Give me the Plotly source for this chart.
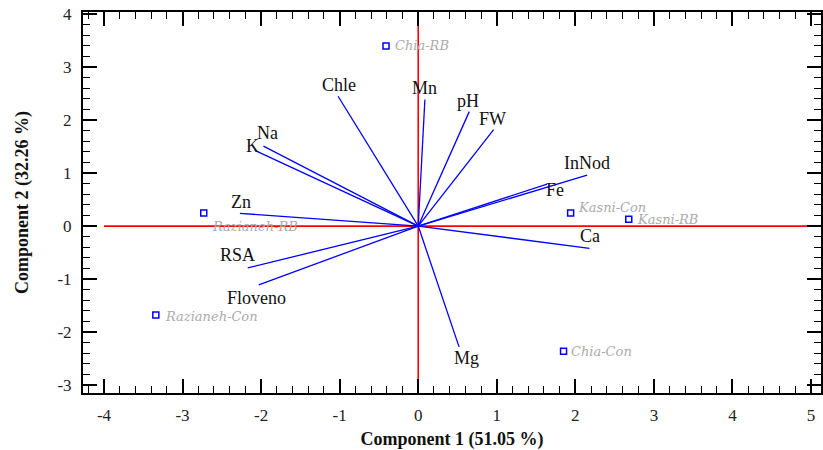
import plotly.graph_objects as go

# Variable loadings (biplot vectors)
variables = ["Chle", "Mn", "pH", "FW", "InNod", "Fe", "Ca", "Mg", "K", "Na", "Zn", "RSA", "Floveno"]
load_pc1 = [-1.02, 0.085, 0.65, 0.96, 2.15, 1.64, 2.18, 0.52, -2.08, -1.97, -2.27, -2.17, -2.03]
load_pc2 = [2.45, 2.39, 2.16, 1.82, 0.96, 0.79, -0.42, -2.28, 1.43, 1.51, 0.24, -0.79, -1.11]

# Sample scores
samples = ["Chia-RB", "Razianeh-RB", "Razianeh-Con", "Kasni-Con", "Kasni-RB", "Chia-Con"]
score_pc1 = [-0.41, -2.73, -3.34, 1.94, 2.68, 1.85]
score_pc2 = [3.40, 0.245, -1.68, 0.245, 0.13, -2.36]

# Axis ticks (plain hyphen for negatives)
x_tickvals = [-4, -3, -2, -1, 0, 1, 2, 3, 4, 5]
x_ticktext = ["-4", "-3", "-2", "-1", "0", "1", "2", "3", "4", "5"]
y_tickvals = [-3, -2, -1, 0, 1, 2, 3, 4]
y_ticktext = ["-3", "-2", "-1", "0", "1", "2", "3", "4"]

# Label offsets in pixels (x, y) relative to the vector tip
var_label_shift = [(1, 11), (0, 11), (-1, 11), (-1, 11), (0, 12), (8, -6), (1, 12), (7, -11),
                   (-2, 4), (4, 13), (1, 11), (-10, 13), (-2, -13)]
# Label offsets in pixels for the sample names (relative to the marker)
sample_label_shift = [(7, 0), (6, -13), (7, -1), (5, 6), (6, 0), (5, 0)]

SERIF = "Liberation Serif"

fig = go.Figure()

# reference axes through the origin
fig.add_shape(type="line", x0=-4, x1=5, y0=0, y1=0, line=dict(color="red", width=1.6), layer="below")
fig.add_shape(type="line", x0=0, x1=0, y0=-3, y1=3.85, line=dict(color="red", width=1.6), layer="below")

# loading vectors from the origin
vx, vy = [], []
for a, b in zip(load_pc1, load_pc2):
    vx += [0, a, None]
    vy += [0, b, None]
fig.add_trace(go.Scatter(x=vx, y=vy, mode="lines", line=dict(color="#0000ff", width=1.3),
                         hoverinfo="skip", showlegend=False))

# sample points
fig.add_trace(go.Scatter(x=score_pc1, y=score_pc2, mode="markers",
                         marker=dict(symbol="square-open", size=6, color="#0000ff",
                                     line=dict(width=1.5, color="#0000ff")),
                         text=samples, showlegend=False))

for name, a, b, (dx, dy) in zip(variables, load_pc1, load_pc2, var_label_shift):
    fig.add_annotation(x=a, y=b, text=name, showarrow=False, xshift=dx, yshift=dy,
                       font=dict(family=SERIF, size=18, color="#111111"))

for name, a, b, (dx, dy) in zip(samples, score_pc1, score_pc2, sample_label_shift):
    fig.add_annotation(x=a, y=b, text="<i>" + name + "</i>", showarrow=False, xanchor="left",
                       xshift=dx, yshift=dy,
                       font=dict(family="DejaVu Serif", size=13, color="#ababab"))

axis_common = dict(
    showgrid=False, zeroline=False, showline=True, linecolor="black", linewidth=2,
    mirror="allticks", ticks="inside", ticklen=14, tickwidth=1.5, tickcolor="black",
    tickfont=dict(family=SERIF, size=17, color="#222222"),
    minor=dict(dtick=0.2, tick0=0, ticks="inside", ticklen=7, tickwidth=1.2, tickcolor="black"),
    tickmode="array",
)

fig.update_layout(
    width=823, height=450,
    margin=dict(l=83, r=0, t=12, b=57),
    plot_bgcolor="white", paper_bgcolor="white",
    xaxis=dict(range=[-4.267, 5.127], tickvals=x_tickvals, ticktext=x_ticktext,
               ticklabelstandoff=6, **axis_common,
               title=dict(text="<b>Component 1 (51.05 %)</b>", standoff=8,
                          font=dict(family=SERIF, size=18, color="#111111"))),
    yaxis=dict(range=[-3.15, 4.04], tickvals=y_tickvals, ticktext=y_ticktext,
               ticklabelstandoff=6, **axis_common,
               title=dict(text="<b>Component 2 (32.26 %)</b>", standoff=24,
                          font=dict(family=SERIF, size=18, color="#111111"))),
)

fig.write_html("out.html")
